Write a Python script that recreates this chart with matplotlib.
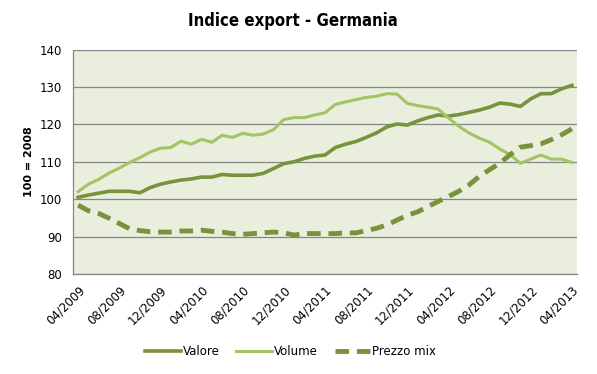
import matplotlib
matplotlib.use('Agg')
import matplotlib.pyplot as plt

# monthly index, 04/2009 .. 04/2013
months = [f"{m:02d}/{y}" for y in range(2009, 2014) for m in range(1, 13)][3:52]

valore = [100.5, 101.1, 101.6, 102.1, 102.1, 102.1, 101.7, 103.1, 104.0, 104.6,
          105.1, 105.4, 105.9, 105.9, 106.6, 106.4, 106.4, 106.4, 106.9, 108.2,
          109.5, 110.0, 110.9, 111.5, 111.8, 113.8, 114.7, 115.4, 116.5, 117.7,
          119.3, 120.1, 119.8, 120.9, 121.8, 122.5, 122.2, 122.6, 123.2, 123.8,
          124.6, 125.7, 125.4, 124.8, 126.8, 128.2, 128.2, 129.5, 130.4]

volume = [102.0, 104.0, 105.3, 107.0, 108.3, 109.8, 111.1, 112.6, 113.6, 113.8,
          115.5, 114.7, 116.0, 115.2, 117.1, 116.5, 117.6, 117.1, 117.4, 118.6,
          121.3, 121.8, 121.8, 122.5, 123.1, 125.3, 126.0, 126.6, 127.2, 127.5,
          128.2, 128.1, 125.6, 125.0, 124.6, 124.1, 121.7, 119.5, 117.7, 116.3,
          115.2, 113.4, 111.9, 109.6, 110.7, 111.8, 110.7, 110.7, 109.8]

prezzo = [98.4, 96.9, 96.2, 94.9, 93.5, 92.1, 91.6, 91.3, 91.2, 91.2,
          91.5, 91.5, 91.7, 91.4, 91.2, 90.8, 90.6, 90.8, 91.0, 91.2,
          91.0, 90.4, 90.8, 90.8, 90.8, 90.8, 91.0, 91.0, 91.6, 92.2,
          93.1, 94.4, 95.7, 96.6, 98.0, 99.4, 100.7, 102.1, 103.8, 106.1,
          107.9, 109.6, 111.9, 113.9, 114.3, 114.8, 115.9, 117.2, 118.8]

yticks = [80, 90, 100, 110, 120, 130, 140]

xs = list(range(len(months)))

plt.rcParams['font.family'] = ['DejaVu Sans']

fig = plt.figure(figsize=(5.97, 3.74), dpi=100)
ax = fig.add_axes([0.1223, 0.2674, 0.8442, 0.6002])
ax.set_facecolor('#EAEFDD')

dark = '#77933C'
light = '#A2C464'

ax.plot(xs, valore, color=dark, linewidth=2.6, label='Valore', zorder=3)
ax.plot(xs, volume, color=light, linewidth=2.2, label='Volume', zorder=3)
ax.plot(xs, prezzo, color=dark, linewidth=3.5, linestyle=(0, (2.8, 1.6)),
        label='Prezzo mix', zorder=3)

ax.set_xlim(-0.5, len(months) - 0.5)
ax.set_ylim(80, 140)
ax.set_yticks(yticks)
ax.yaxis.grid(True, color='#868686', linewidth=0.9)
ax.set_axisbelow(True)

ax.set_xticks(xs[::4])
ax.set_xticklabels(months[::4], rotation=45, ha='right', rotation_mode='anchor',
                   fontsize=8)
ax.tick_params(axis='both', length=0, labelsize=8.5)
ax.tick_params(axis='x', pad=7)
ax.tick_params(axis='y', pad=8)

for side in ['top', 'right']:
    ax.spines[side].set_visible(False)
for side in ['left', 'bottom']:
    ax.spines[side].set_color('#868686')
    ax.spines[side].set_linewidth(0.9)

ax.set_ylabel('100 = 2008', fontsize=8, fontweight='bold', labelpad=4)

fig.text(0.49, 0.945, 'Indice export - Germania', ha='center', va='center',
         fontsize=12, fontweight='bold', fontstretch='condensed',
         family=['DejaVu Sans'])

fig.legend(loc='center', bbox_to_anchor=(0.487, 0.059), ncol=3, frameon=False,
           fontsize=8.5, handlelength=3.0, columnspacing=1.4, handletextpad=0.2)

fig.savefig('out.png', dpi=100)
